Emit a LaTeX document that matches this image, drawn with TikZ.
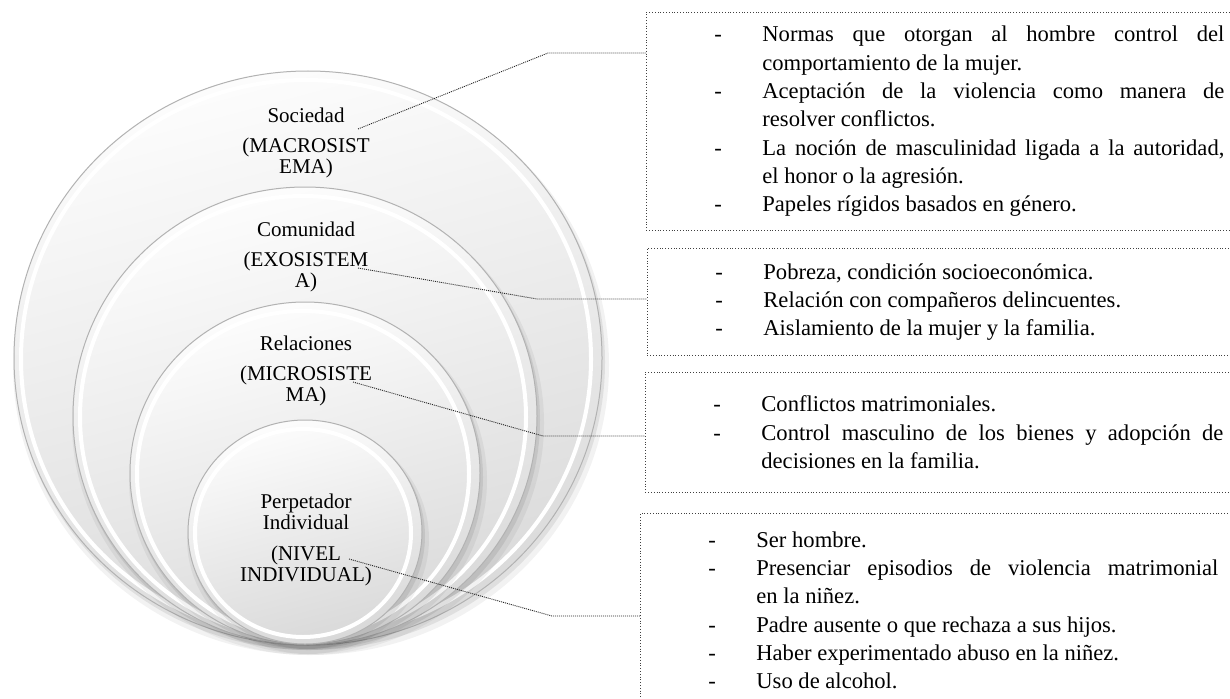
\documentclass[tikz,border=0pt]{standalone}
\usepackage{fontspec}
\setmainfont{Liberation Serif}
\usepackage{tikz}

\newcommand{\riskitem}[1]{\noindent\rightskip=0pt\relax\parfillskip=0pt plus 1fil\relax
    \spaceskip=0pt\relax\xspaceskip=0pt\relax
    \hyphenpenalty=10000\relax\tolerance=9999\relax
    \hangindent=48pt\hangafter=1\makebox[48pt][l]{-}#1\par}

\begin{document}
\begin{tikzpicture}[x=1pt, y=-1pt,
    level/.style={font=\fontsize{21}{21}\selectfont, align=center, inner sep=0pt},
    riskbox/.style={draw=black!75, dotted, line width=0.8pt, anchor=north west,
        inner xsep=68pt, inner ysep=0pt, text width=510pt,
        font=\fontsize{22.6}{28.3}\selectfont},
    link/.style={draw=black!85, dash pattern=on 1pt off 1pt, line width=0.9pt}]

    \useasboundingbox (0,0) rectangle (1230,698);

    % nested levels
    \foreach \cx/\cy/\rx/\ry in {308/358/294/287, 305/416/232/229, 305/473/175/171, 305/532/117/112}{
        \fill[black, opacity=0.05] (\cx+3,\cy+7) ellipse [x radius=\rx+4, y radius=\ry+3];
        \fill[black, opacity=0.08] (\cx+2,\cy+4) ellipse [x radius=\rx+1, y radius=\ry+1];
        \shade[top color=gray!2, bottom color=gray!30, shading angle=15, draw=gray!60, line width=1pt]
            (\cx,\cy) ellipse [x radius=\rx, y radius=\ry];
        \draw[white, line width=4pt] (\cx-2,\cy+1) ellipse [x radius=\rx-9, y radius=\ry-8];
    }

    \node[level] (soc) at (306,143) {Sociedad\\[9pt](MACROSIST\\EMA)};
    \node[level] (com) at (306,257) {Comunidad\\[9pt](EXOSISTEM\\A)};
    \node[level] (rel) at (306,371) {Relaciones\\[9pt](MICROSISTE\\MA)};
    \node[level] (ind) at (306,540) {Perpetador\\Individual\\[10pt](NIVEL\\INDIVIDUAL)};

    % factor boxes
    \node[riskbox, minimum height=218pt] (bsoc) at (646,12) {%
        \riskitem{Normas que otorgan al hombre control del\linebreak comportamiento de la mujer.}
        \riskitem{Aceptación de la violencia como manera de\linebreak resolver conflictos.}
        \riskitem{La noción de masculinidad ligada a la autoridad,\linebreak el honor o la agresión.}
        \riskitem{Papeles rígidos basados en género.}};
    \node[riskbox, minimum height=107pt] (bcom) at (647,248) {%
        \riskitem{Pobreza, condición socioeconómica.}
        \riskitem{Relación con compañeros delincuentes.}
        \riskitem{Aislamiento de la mujer y la familia.}};
    \node[riskbox, minimum height=120pt] (brel) at (645,372) {%
        \riskitem{Conflictos matrimoniales.}
        \riskitem{Control masculino de los bienes y adopción de\linebreak decisiones en la familia.}};
    \node[riskbox, minimum height=194pt] (bind) at (640,513) {%
        \riskitem{Ser hombre.}
        \riskitem{Presenciar episodios de violencia matrimonial\linebreak en la niñez.}
        \riskitem{Padre ausente o que rechaza a sus hijos.}
        \riskitem{Haber experimentado abuso en la niñez.}
        \riskitem{Uso de alcohol.}};

    % connectors
    \coordinate (soc-s) at (358,129);
    \coordinate (soc-k) at (548,53);
    \coordinate (com-s) at (358,268);
    \coordinate (com-k) at (537,299);
    \coordinate (rel-s) at (353,382);
    \coordinate (rel-k) at (543,436);
    \coordinate (ind-s) at (349,559);
    \coordinate (ind-k) at (552,616);

    \draw[link] (soc-s) -- (soc-k) -- (soc-k -| bsoc.west);
    \draw[link] (com-s) -- (com-k) -- (com-k -| bcom.west);
    \draw[link] (rel-s) -- (rel-k) -- (rel-k -| brel.west);
    \draw[link] (ind-s) -- (ind-k) -- (ind-k -| bind.west);
\end{tikzpicture}
\end{document}
